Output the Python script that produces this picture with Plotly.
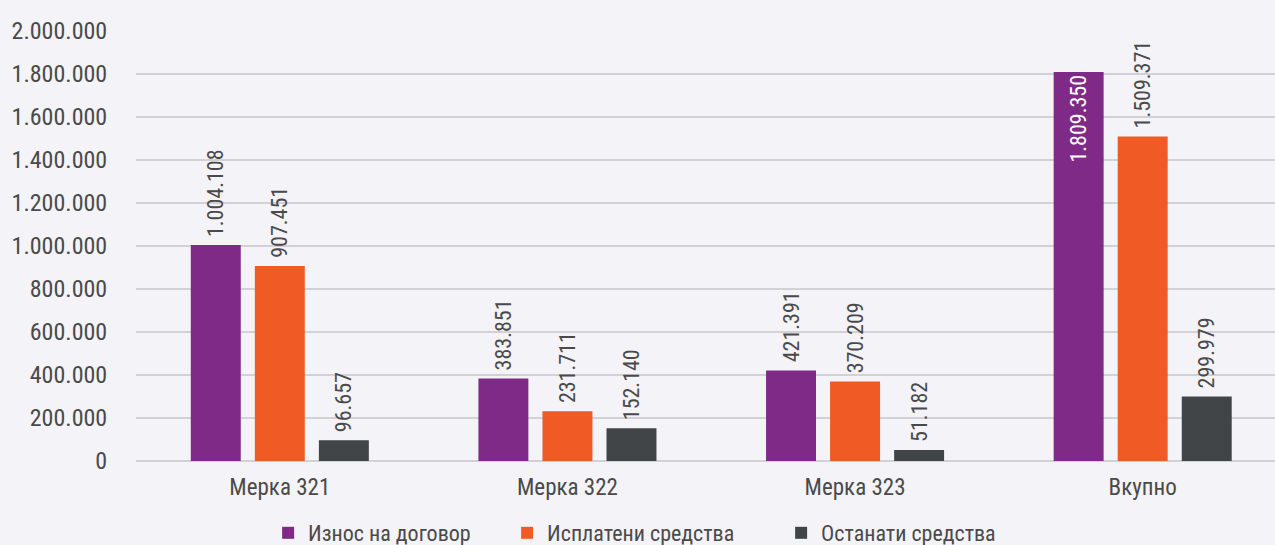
import plotly.graph_objects as go

categories = ["Мерка 321", "Мерка 322", "Мерка 323", "Вкупно"]
series_names = ["Износ на договор", "Исплатени средства", "Останати средства"]
contract = [1004108, 383851, 421391, 1809350]
paid = [907451, 231711, 370209, 1509371]
remaining = [96657, 152140, 51182, 299979]
colors = ["#7f2a87", "#f05a24", "#414547"]
tick_vals = [0, 200000, 400000, 600000, 800000, 1000000, 1200000, 1400000, 1600000, 1800000, 2000000]

FONT = "Roboto Condensed, Liberation Sans Narrow, Roboto, sans-serif"
TXT = "#4a4a4a"
LEGEND_WIDTHS = [194, 229, 200]
INSIDE_LIMIT = 1700000

def fmt(v):
    return f"{v:,}".replace(",", ".")

fig = go.Figure()
for name, vals, col, lw in zip(series_names, [contract, paid, remaining], colors, LEGEND_WIDTHS):
    positions = ["inside" if v > INSIDE_LIMIT else "outside" for v in vals]
    labels = [fmt(v) if v > INSIDE_LIMIT else "\u00a0" + fmt(v) for v in vals]
    fig.add_trace(go.Bar(
        x=categories, y=vals, name=name, marker_color=col,
        marker_line_width=0, legendwidth=lw,
        text=labels, textposition=positions,
        textangle=-90, insidetextanchor="end", constraintext="none",
        textfont=dict(family=FONT, size=22),
        insidetextfont=dict(family=FONT, size=22, color="white"),
        outsidetextfont=dict(family=FONT, size=22, color=TXT),
        cliponaxis=False,
    ))

fig.update_layout(
    width=1275, height=545,
    paper_bgcolor="#f4f3f8", plot_bgcolor="#f4f3f8",
    margin=dict(l=136, r=0, t=31, b=84, autoexpand=False),
    barmode="group", bargap=0.332, bargroupgap=0.22,
    font=dict(family=FONT, size=22, color=TXT),
    showlegend=True,
    legend=dict(orientation="h", x=0.116, xanchor="left",
                yref="container", y=0.022, yanchor="middle",
                font=dict(family=FONT, size=22, color=TXT),
                bgcolor="rgba(0,0,0,0)"),
)
fig.update_xaxes(range=[-0.5, 3.46], showgrid=False, showline=False,
                 ticks="outside", ticklen=5, tickcolor="rgba(0,0,0,0)",
                 tickfont=dict(family=FONT, size=23, color=TXT))
fig.update_yaxes(range=[0, 2000000], tickvals=tick_vals,
                 ticktext=[fmt(v) for v in tick_vals],
                 showgrid=True, gridcolor="#d2d2d6", gridwidth=1.5,
                 zeroline=True, zerolinecolor="#d2d2d6", zerolinewidth=1.5,
                 ticks="outside", ticklen=23, tickcolor="rgba(0,0,0,0)",
                 tickfont=dict(family=FONT, size=24, color=TXT))

fig.write_html("out.html", config={"displayModeBar": False},
               post_script="document.body.style.margin='0px';document.body.style.overflow='hidden';")
